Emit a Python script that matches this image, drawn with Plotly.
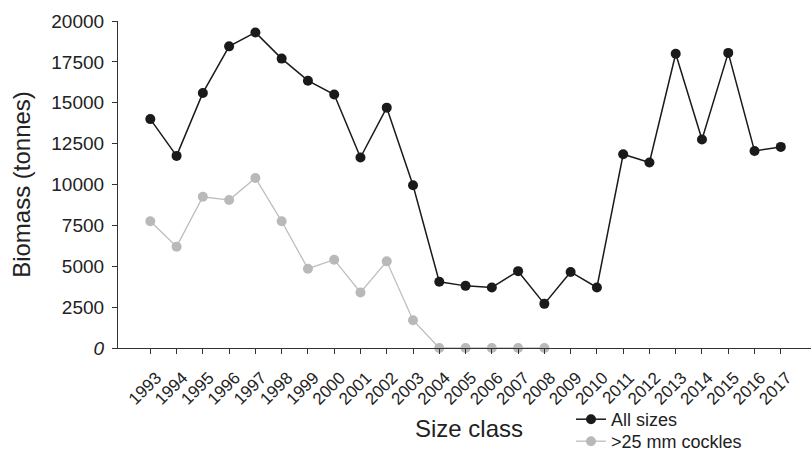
import plotly.graph_objects as go

years = list(range(1993, 2018))
all_sizes = [14000, 11750, 15600, 18450, 19300, 17700, 16350, 15500, 11650, 14700,
             9950, 4050, 3800, 3700, 4700, 2700, 4650, 3700, 11850, 11350,
             18000, 12750, 18050, 12050, 12300]
cockles_years = list(range(1993, 2009))
cockles_25mm = [7750, 6200, 9250, 9050, 10400, 7750, 4850, 5400, 3400, 5300,
                1700, 0, 0, 0, 0, 0]
y_tickvals = [0, 2500, 5000, 7500, 10000, 12500, 15000, 17500, 20000]
y_ticktext = ["<i>0</i>", "2500", "5000", "7500", "10000", "12500", "15000", "17500", "20000"]

FONT = "Liberation Sans, Arial, Helvetica, sans-serif"

fig = go.Figure()
fig.add_trace(go.Scatter(
    x=years, y=all_sizes, name="All sizes", mode="lines+markers",
    line=dict(color="#1a1a1a", width=1.5),
    marker=dict(color="#1a1a1a", size=10),
    cliponaxis=False, legend="legend",
))
fig.add_trace(go.Scatter(
    x=cockles_years, y=cockles_25mm, name=">25 mm cockles", mode="lines+markers",
    line=dict(color="#bdbdbd", width=1.3),
    marker=dict(color="#b9b9b9", size=10),
    cliponaxis=False, legend="legend2",
))

legend_common = dict(
    x=571/811, xanchor="left", xref="container", yanchor="top", yref="container",
    font=dict(size=18, color="#222222"),
    bgcolor="rgba(0,0,0,0)", itemwidth=30,
)

fig.update_layout(
    width=811, height=450,
    margin=dict(l=118, r=0, t=21, b=102, autoexpand=False),
    paper_bgcolor="white", plot_bgcolor="white",
    font=dict(family=FONT, color="#222222"),
    showlegend=True,
    legend=dict(y=1 - 401/450, **legend_common),
    legend2=dict(y=1 - 423/450, **legend_common),
    xaxis=dict(
        range=[1991.77, 2018.15],
        tickvals=years, ticktext=[str(y) for y in years],
        tickangle=-45,
        tickfont=dict(size=17, color="#222222"),
        ticklabelshift=6, ticklabelstandoff=7,
        showline=True, linecolor="#333333", linewidth=1.2,
        ticks="outside", ticklen=5, tickcolor="#333333", tickwidth=1,
        showgrid=False, zeroline=False,
        automargin=False,
    ),
    yaxis=dict(
        range=[0, 20000],
        tickvals=y_tickvals, ticktext=y_ticktext,
        tickfont=dict(size=19, color="#222222"),
        showline=True, linecolor="#333333", linewidth=1.2,
        ticks="outside", ticklen=5, tickcolor="#333333", tickwidth=1,
        ticklabelstandoff=4,
        showgrid=False, zeroline=False,
        title=dict(text="Biomass (tonnes)", font=dict(size=24, color="#222222"), standoff=13),
        automargin=False,
    ),
    annotations=[dict(
        text="Size class", xref="paper", yref="paper",
        x=(469 - 118) / 693, y=(348 - 428) / 327, xanchor="center", yanchor="middle",
        showarrow=False, font=dict(size=24, color="#222222"),
    )],
)

fig.write_html("out.html", config={"displayModeBar": False},
               post_script="document.body.style.margin='0';")
